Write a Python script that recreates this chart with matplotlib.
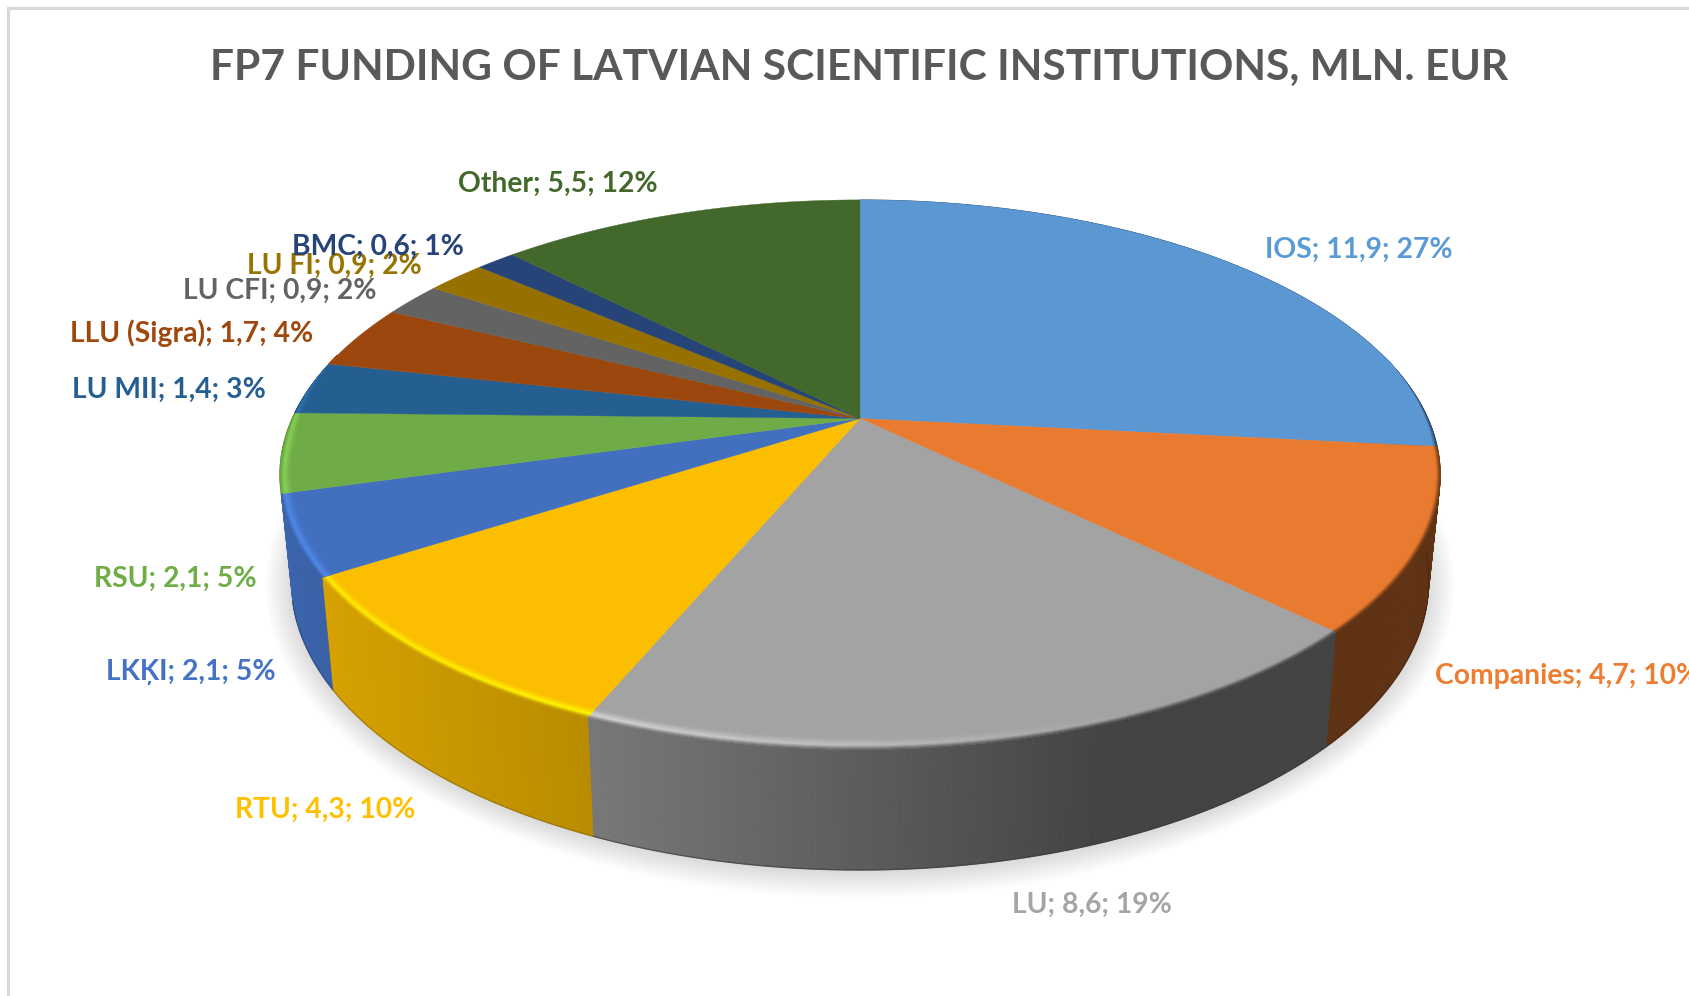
"""FP7 funding pie, drawn as a tilted 3D disc in pixel coordinates."""
import numpy as np
import matplotlib
matplotlib.use('Agg')
import matplotlib.pyplot as plt
from matplotlib.collections import PolyCollection
from matplotlib.colors import to_rgb

names = ['IOS', 'Companies', 'LU', 'RTU', 'LKĶI', 'RSU', 'LU MII',
         'LLU (Sigra)', 'LU CFI', 'LU FI', 'BMC', 'Other']
values = [11.94, 4.74, 8.56, 4.3, 2.1, 2.1, 1.4, 1.7, 0.9, 0.9, 0.6, 5.54]
percents = [27, 10, 19, 10, 5, 5, 3, 4, 2, 2, 1, 12]
colors = ['#5B9BD5', '#ED7D31', '#A5A5A5', '#FFC000', '#4472C4', '#70AD47',
          '#255E91', '#9E480E', '#636363', '#997300', '#264478', '#43682B']
top_colors = ['#5B98D3', '#E97B30', '#A3A3A3', '#FBBE00', '#4270BF', '#6FAB46',
              '#255E91', '#9B470D', '#636363', '#977100', '#264478', '#43682B']
label_xy = [(1359, 250), (1435, 676), (1092, 905), (325, 810), (191, 672), (175, 579),
            (169, 390), (192, 333), (280, 291), (334, 266), (378, 247), (558, 184)]

W, H = 1690, 996
CX, CY = 860, 418.5
A, B, K = 568, 263.3, 0.2045
TOP_OFFSET = 104

plt.rcParams['font.family'] = ['Lato', 'DejaVu Sans']


def project(theta, r=1.0):
    # disc -> screen, theta runs clockwise from 12 o'clock
    dx, dy = r * np.sin(theta), r * np.cos(theta)
    w = 1 + K * dy
    return CX + A * dx / w, CY - B * dy / w


def lower(x, y):
    return CX + (x - CX) * 0.98, CY + (y - CY) * 1.05 + TOP_OFFSET


def wall_shade(x):
    return np.interp(x, [280, 340, 600, 1100, 1440], [0.88, 0.83, 0.72, 0.41, 0.40])


fig = plt.figure(figsize=(W / 100, H / 100), dpi=100, facecolor='white')
ax = fig.add_axes([0, 0, 1, 1])
ax.set_xlim(0, W)
ax.set_ylim(H, 0)
ax.axis('off')

# chart area border, only top and left are inside the crop
ax.plot([8, 8, W], [H, 8, 8], color='#D9D9D9', lw=2.2, solid_joinstyle='miter')

edges = np.cumsum([0] + values) / sum(values) * 2 * np.pi

# soft shadow under the disc
t = np.linspace(0, 2 * np.pi, 361)
sx, sy = lower(*project(t))
for k in np.arange(26, 0, -1.5):
    ox = sx - CX
    oy = sy - (CY + TOP_OFFSET)
    d = np.hypot(ox, oy)
    ax.fill(sx + k * ox / d, sy + 2 + k * oy / d, color='black', alpha=0.0065, lw=0, zorder=1)

# side wall, the back left slices never show one
for i, c in enumerate(colors):
    if (edges[i] + edges[i + 1]) / 2 > np.radians(260):
        continue
    base = np.array(to_rgb(c))
    th = np.linspace(edges[i], edges[i + 1], max(int((edges[i + 1] - edges[i]) * 120), 3))
    x, y = project(th)
    xb, yb = lower(x, y)
    quads = [[(x[j], y[j]), (x[j + 1], y[j + 1]), (xb[j + 1], yb[j + 1]), (xb[j], yb[j])]
             for j in range(len(th) - 1)]
    shades = [base * wall_shade((x[j] + x[j + 1]) / 2) for j in range(len(th) - 1)]
    ax.add_collection(PolyCollection(quads, facecolors=shades, edgecolors='face', linewidths=0.6, zorder=2))
    ax.plot(xb, yb, color=base * wall_shade(xb.mean()) * 0.7, lw=1, alpha=0.6, zorder=2)

# top face
for i, c in enumerate(top_colors):
    th = np.linspace(edges[i], edges[i + 1], 200)
    x, y = project(th)
    ax.fill(np.r_[CX, x], np.r_[CY, y], color=c, lw=0.3, zorder=3)

# bevel along the front rim
offsets = np.linspace(0, 12, 13)
for i, c in enumerate(top_colors):
    base = np.array(to_rgb(c))
    th = np.linspace(edges[i], edges[i + 1], max(int((edges[i + 1] - edges[i]) * 120), 3))
    x, y = project(th)
    dist = np.hypot(x - CX, y - CY)
    ux, uy = (CX - x) / dist, (CY - y) / dist
    quads, cols = [], []
    for n in range(len(offsets) - 1):
        for j in range(len(th) - 1):
            front = np.clip((-np.cos(th[j]) + 0.25) / 0.35, 0, 1)
            if front <= 0:
                continue
            o0, o1 = offsets[n] * front, offsets[n + 1] * front
            quads.append([(x[j] + o0 * ux[j], y[j] + o0 * uy[j]),
                          (x[j + 1] + o0 * ux[j + 1], y[j + 1] + o0 * uy[j + 1]),
                          (x[j + 1] + o1 * ux[j + 1], y[j + 1] + o1 * uy[j + 1]),
                          (x[j] + o1 * ux[j], y[j] + o1 * uy[j])])
            s = (offsets[n] + offsets[n + 1]) / 2 / offsets[-1]
            wall = base * wall_shade(x[j])
            glow = np.interp(x[j], [280, 600, 950, 1150], [1.22, 1.3, 1.12, 1.0])
            mid = np.clip(base * glow, 0, 1)
            if s < 0.4:
                col = wall + (mid - wall) * s / 0.4
            else:
                col = mid + (base - mid) * (s - 0.4) / 0.6
            cols.append(col)
    if quads:
        ax.add_collection(PolyCollection(quads, facecolors=cols, edgecolors='face', linewidths=0.5, zorder=4))

ax.text(859, 68, 'FP7 FUNDING OF LATVIAN SCIENTIFIC INSTITUTIONS, MLN. EUR',
        ha='center', va='center', fontsize=30.6, fontweight='bold', color='#595959', zorder=6)

for i, name in enumerate(names):
    label = f"{name}; {values[i]:.1f}; {percents[i]}%".replace('.', ',')
    lx, ly = label_xy[i]
    ha = 'left' if name == 'Companies' else 'center'
    ax.text(lx, ly, label, ha=ha, va='center', fontsize=20.3, fontweight='bold', color=colors[i],
            zorder=6, clip_on=True)

fig.savefig('out.png', dpi=100, facecolor='white')
